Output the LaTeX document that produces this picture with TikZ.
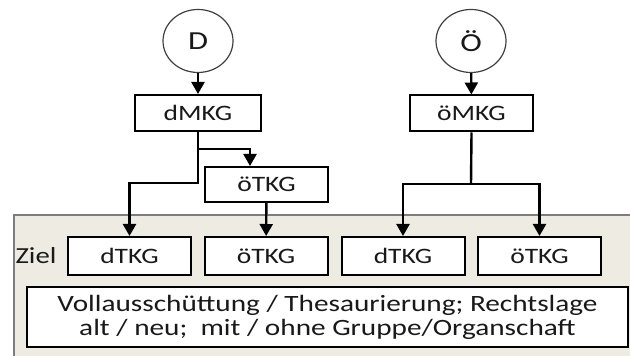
\documentclass[tikz,border=0pt]{standalone}
\usepackage{fontspec}
\setmainfont{Carlito}[FakeStretch=1.25]
\usetikzlibrary{arrows.meta}
\usetikzlibrary{shapes.geometric}

\definecolor{panelbg}{RGB}{238,236,226}
\definecolor{panelrule}{RGB}{125,125,125}

\begin{document}
\begin{tikzpicture}[x=0.5pt, y=-0.5pt,
    flow/.style={line width=1.2pt, -{Triangle[width=6.5pt,length=6pt]}},
    land/.style={draw=black!75, ellipse, line width=0.6pt, fill=white, text=black!90,
        minimum width=35pt, minimum height=31.5pt, inner sep=0pt, font=\fontsize{13}{15}\selectfont},
    kgbox/.style={draw, line width=1pt, fill=white, text=black!90,
        minimum width=61.5pt, minimum height=18pt, inner sep=0pt, font=\fontsize{11}{13}\selectfont}]
        \useasboundingbox (0,0) rectangle (630,356);

        % Zielbereich
        \fill[panelbg] (14,215) rectangle (630,356);
        \draw[panelrule, line width=0.6pt] (14,356) -- (14,215) -- (630,215);

        \node[land] (nodeD) at (198,41) {D};
        \node[land] (nodeOe) at (471,41) {Ö};
        \node[kgbox, minimum width=63pt] (dMKG) at (198,113) {dMKG};
        \node[kgbox] (oeMKG) at (471.5,113.5) {öMKG};
        \node[kgbox, minimum height=17.5pt] (oeTKGmid) at (266.5,184.5) {öTKG};

        \node[text=black!90, font=\fontsize{11.5}{13}\selectfont] (ziel) at (36,256) {Ziel};
        \node[kgbox, minimum height=19pt] (dTKG1) at (129.5,256) {dTKG};
        \node[kgbox, minimum height=19pt] (oeTKG1) at (266,256) {öTKG};
        \node[kgbox, minimum height=19pt] (dTKG2) at (403,256) {dTKG};
        \node[kgbox, minimum height=19pt] (oeTKG2) at (539.5,256) {öTKG};
        \node[kgbox, minimum width=300.5pt, minimum height=30pt, align=center,
            font=\fontsize{11.7}{12}\selectfont] (rechtslage) at (327.5,317)
            {Vollausschüttung / Thesaurierung; Rechtslage\\alt / neu;\ \ mit / ohne Gruppe/Organschaft};

        \coordinate (branchD) at (198,149);
        \coordinate (branchEnd) at (250,149);
        \coordinate (forkD) at (198,183);
        \coordinate (forkOe) at (471,184);

        \draw[flow] (nodeD) -- (dMKG);
        \draw[flow] (nodeOe) -- (oeMKG);
        \draw[flow] (dMKG.south) -- (forkD) -| (dTKG1.north);
        \draw[flow] (branchD) -- (branchEnd) -- (branchEnd |- oeTKGmid.north);
        \draw[flow] (oeTKGmid) -- (oeTKG1);
        \draw[line width=1.2pt] (oeMKG.south) -- (forkOe);
        \draw[flow] (forkOe) -| (dTKG2.north);
        \draw[flow] (forkOe) -| (oeTKG2.north);
    \end{tikzpicture}
\end{document}
